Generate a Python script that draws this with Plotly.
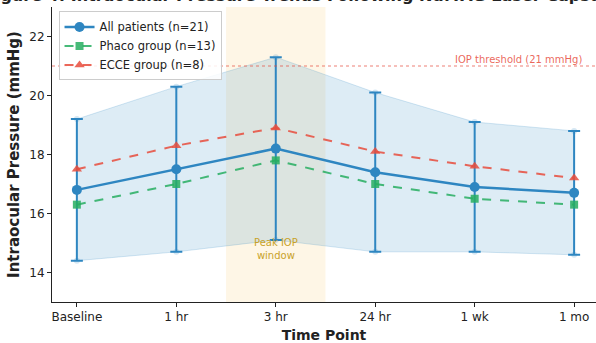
import plotly.graph_objects as go

time_points = ["Baseline", "1 hr", "3 hr", "24 hr", "1 wk", "1 mo"]
all_mean = [16.8, 17.5, 18.2, 17.4, 16.9, 16.7]
all_sd = [2.4, 2.8, 3.1, 2.7, 2.2, 2.1]
phaco_mean = [16.3, 17.0, 17.8, 17.0, 16.5, 16.3]
ecce_mean = [17.5, 18.3, 18.9, 18.1, 17.6, 17.2]
threshold = 21
peak_window = [1.5, 2.5]

xs = list(range(len(time_points)))
upper = [m + s for m, s in zip(all_mean, all_sd)]
lower = [m - s for m, s in zip(all_mean, all_sd)]

BLUE = "#2E86C1"
GREEN = "rgba(39,174,96,0.85)"
RED = "rgba(231,76,60,0.85)"
FONT = "DejaVu Sans"

fig = go.Figure()

# SD band
fig.add_trace(go.Scatter(x=xs + xs[::-1], y=upper + lower[::-1], fill="toself",
                         fillcolor="rgba(46,134,193,0.16)", line=dict(color="rgba(46,134,193,0.2)", width=1),
                         hoverinfo="skip", showlegend=False))

fig.add_trace(go.Scatter(x=xs, y=all_mean, mode="lines+markers", name="All patients (n=21)",
                         line=dict(color=BLUE, width=2.5),
                         marker=dict(symbol="circle", size=10, color=BLUE),
                         error_y=dict(type="data", array=all_sd, visible=True, color=BLUE, thickness=2, width=6)))
fig.add_trace(go.Scatter(x=xs, y=phaco_mean, mode="lines+markers", name="Phaco group (n=13)",
                         line=dict(color=GREEN, width=2, dash="dash"),
                         marker=dict(symbol="square", size=8, color=GREEN)))
fig.add_trace(go.Scatter(x=xs, y=ecce_mean, mode="lines+markers", name="ECCE group (n=8)",
                         line=dict(color=RED, width=2, dash="dash"),
                         marker=dict(symbol="triangle-up", size=9, color=RED)))

# Peak window shading
fig.add_shape(type="rect", xref="x", yref="paper", x0=peak_window[0], x1=peak_window[1], y0=0, y1=1,
              fillcolor="rgba(253,235,200,0.45)", line=dict(width=0), layer="below")
# Threshold line
fig.add_shape(type="line", xref="paper", yref="y", x0=0, x1=1, y0=threshold, y1=threshold,
              line=dict(color="rgba(231,76,60,0.7)", width=1.2, dash="dot"))

fig.add_annotation(x=5.1, y=threshold, xref="x", yref="y", text="IOP threshold (21 mmHg)",
                   showarrow=False, xanchor="right", yanchor="bottom", yshift=-1,
                   font=dict(family=FONT, size=10, color="rgba(231,76,60,0.85)"))
fig.add_annotation(x=2, y=14.8, xref="x", yref="y", text="Peak IOP<br>window",
                   showarrow=False, font=dict(family=FONT, size=10, color="#C9A227"))

fig.add_annotation(x=0.5, y=1, xref="paper", yref="paper", yanchor="bottom", yshift=0,
                   text="<b>Figure 4: Intraocular Pressure Trends Following Nd:YAG Laser Capsulotomy</b>",
                   showarrow=False, font=dict(family=FONT, size=16, color="#222"))

fig.update_layout(
    width=596, height=343,
    margin=dict(l=52, r=0, t=7, b=41, autoexpand=False),
    plot_bgcolor="white", paper_bgcolor="white",
    font=dict(family=FONT, size=12, color="#222"),
    showlegend=True,
    legend=dict(x=0.012, y=0.985, xanchor="left", yanchor="top",
                bgcolor="rgba(255,255,255,0.85)", bordercolor="#CCCCCC", borderwidth=1,
                font=dict(family=FONT, size=11.5), tracegroupgap=0, itemwidth=30),
)
fig.update_xaxes(range=[-0.25, 5.22], tickmode="array", tickvals=xs, ticktext=time_points,
                 automargin=False,
                 showgrid=False, zeroline=False, showline=True, linecolor="#222", linewidth=1,
                 ticks="outside", ticklen=4, tickcolor="#222", tickfont=dict(size=12),
                 title=dict(text="<b>Time Point</b>", font=dict(size=14), standoff=7))
fig.update_yaxes(range=[13, 23], tickvals=[14, 16, 18, 20, 22], automargin=False,
                 showgrid=False, zeroline=False, showline=True, linecolor="#222", linewidth=1,
                 ticks="outside", ticklen=4, tickcolor="#222", tickfont=dict(size=12),
                 title=dict(text="<b>Intraocular Pressure (mmHg)</b>", font=dict(size=15), standoff=6))

fig.write_html("out.html", config={"displayModeBar": False},
               post_script="document.body.style.margin='0';document.body.style.overflow='hidden';")
